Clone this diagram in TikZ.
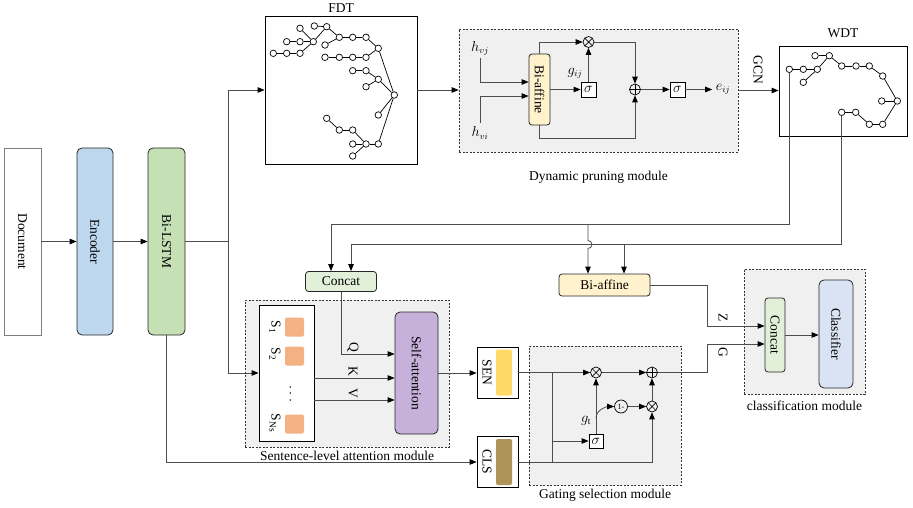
\documentclass[tikz,border=0pt]{standalone}
\usepackage{fontspec}
\setmainfont{Liberation Serif}
\usepackage{amsmath}
\usepackage{tikz}
\usetikzlibrary{arrows.meta,positioning,calc}
\definecolor{docgray}{HTML}{7F7F7F}
\definecolor{encblue}{HTML}{BDD7EE}
\definecolor{lstmgreen}{HTML}{C5E0B4}
\definecolor{catgreen}{HTML}{E2F0D9}
\definecolor{bayellow}{HTML}{FFF2CC}
\definecolor{attpurple}{HTML}{C5B1D9}
\definecolor{clfblue}{HTML}{DAE3F3}
\definecolor{modgray}{HTML}{F0F0F0}
\definecolor{sorange}{HTML}{F4B183}
\definecolor{senyellow}{HTML}{FFD966}
\definecolor{clsbrown}{HTML}{AF9459}
\definecolor{lnkgray}{HTML}{4D4D4D}

\begin{document}
\begin{tikzpicture}[x=1pt,y=-1pt,>={Triangle[length=7pt,width=5.5pt,color=black]},font=\fontsize{13.5}{15}\selectfont,
  blk/.style={draw=black!85,rounded corners=5pt,line width=0.8pt,inner sep=0pt},
  box/.style={draw=black,line width=0.8pt,fill=white,inner sep=0pt},
  module/.style={draw=black!80,dash pattern=on 2pt off 1.5pt,line width=0.7pt,fill=modgray,inner sep=0pt},
  lnk/.style={draw=lnkgray,line width=0.8pt},
  tnode/.style={circle,draw=black,fill=white,line width=0.7pt,minimum size=6.5pt,inner sep=0pt},
  tedge/.style={draw=black,line width=0.7pt},
  sig/.style={draw=black,fill=white,line width=0.8pt,minimum size=15pt,inner sep=0pt},
  otimes/.style={circle,draw=black,line width=0.7pt,minimum size=11pt,inner sep=0pt,
    path picture={\draw[line width=0.7pt] (path picture bounding box.north west)--(path picture bounding box.south east)
      (path picture bounding box.north east)--(path picture bounding box.south west);}},
  oplus/.style={circle,draw=black,line width=0.7pt,minimum size=11pt,inner sep=0pt,
    path picture={\draw[line width=0.7pt] (path picture bounding box.north)--(path picture bounding box.south)
      (path picture bounding box.east)--(path picture bounding box.west);}},
  bar/.style={rounded corners=2pt,minimum width=16pt,minimum height=46pt,inner sep=0pt},
  sq/.style={fill=sorange,rounded corners=2pt,minimum size=19pt,inner sep=0pt}]
\useasboundingbox (0,0) rectangle (913,508);

% left column
\node[box,draw=docgray,minimum width=37pt,minimum height=187pt] (doc) at (22.5,241.5) {\rotatebox{-90}{Document}};
\node[blk,fill=encblue,minimum width=36pt,minimum height=187pt] (enc) at (95,241.5) {\rotatebox{-90}{Encoder}};
\node[blk,fill=lstmgreen,minimum width=37pt,minimum height=187pt] (lstm) at (166.5,241.5) {\rotatebox{-90}{Bi-LSTM}};

% trees and pruning
\node[box,minimum width=152pt,minimum height=148pt,label={above:FDT}] (fdt) at (341,90) {};
\node[module,minimum width=279pt,minimum height=123pt,label={[label distance=15pt]below:Dynamic pruning module}] (dpm) at (598.5,90.5) {};
\node[box,minimum width=128pt,minimum height=90pt,label={[label distance=4pt]above:WDT}] (wdt) at (843,91) {};

\foreach \n/\x/\y in {fr/394.3/95, fa/378.3/48.3, fb/378.3/79.3, fc/378.3/115, fd/378.3/144,
  fa1/366/37.3, fa11/352.7/37.3, fa12/339.3/37.3, fa13/326.7/26.7, fa14/325/45, fa15/314.3/26,
  fa16/313.3/41.7, fa17/300/28.3, fa18/300/41.7, fa19/300/53.3, fa20/286.7/41.7, fa21/286.7/53.3,
  fa22/273.3/53.3, fa2/366/57.3, fa23/352.7/57.3, fa24/339.3/57.3, fa25/325/57.3,
  fb1/366/70.7, fb2/352.7/70.7, fb3/366/86.7,
  fd1/366/144, fd2/352.7/130, fd3/352.7/144, fd4/352.7/156, fd5/339.3/130, fd6/326.7/118.3}
  \node[tnode] (\n) at (\x,\y) {};
\foreach \a/\b in {fr/fa, fr/fb, fr/fc, fr/fd, fa/fa1, fa1/fa11, fa11/fa12, fa12/fa13, fa12/fa14,
  fa13/fa15, fa13/fa16, fa16/fa17, fa16/fa18, fa16/fa19, fa18/fa20, fa19/fa21, fa21/fa22,
  fa/fa2, fa2/fa23, fa23/fa24, fa24/fa25, fb/fb1, fb1/fb2, fb/fb3,
  fd/fd1, fd1/fd2, fd1/fd3, fd1/fd4, fd2/fd5, fd5/fd6}
  \draw[tedge] (\a) -- (\b);

\foreach \n/\x/\y in {w1/789.3/69.3, w2/803.3/69.3, w3/817.3/69.3, w4/803.3/82.3, w5/815/55.7,
  w6/829.3/55.7, w7/841.7/66, w8/856/66, w9/869.3/66, w10/882.7/76, w11/897.3/101, w12/881.7/101,
  w13/841.7/112.3, w14/855.7/112.3, w15/869.3/124.3, w16/882.7/124.3}
  \node[tnode] (\n) at (\x,\y) {};
\foreach \a/\b in {w1/w2, w2/w3, w3/w4, w3/w6, w5/w6, w6/w7, w7/w8, w8/w9, w9/w10, w10/w11,
  w12/w11, w11/w16, w16/w15, w15/w14, w14/w13}
  \draw[tedge] (\a) -- (\b);

\node[blk,fill=bayellow,minimum width=21pt,minimum height=71pt,rounded corners=3pt] (ba1) at (539.5,89.5) {\rotatebox{-90}{Bi-affine}};
\node (hvj) at (480,48) {$h_{vj}$};
\node (hvi) at (480,133) {$h_{vi}$};
\node[otimes] (mul1) at (588.5,42) {};
\node[sig] (sg1) at (588.5,89.5) {$\sigma$};
\node (gij) at (575,73) {$g_{ij}$};
\node[oplus] (add1) at (635,89.5) {};
\node[sig] (sg2) at (677.5,89.5) {$\sigma$};
\node (eij) at (723,89.5) {$e_{ij}$};
\node (gcn) at (758,70) {\rotatebox{-90}{GCN}};

% middle blocks
\node[blk,fill=catgreen,minimum width=71pt,minimum height=20pt,rounded corners=3pt] (cat1) at (341,281.5) {Concat};
\node[blk,fill=bayellow,minimum width=91pt,minimum height=22pt,rounded corners=3pt] (ba2) at (604.5,285) {Bi-affine};

% sentence-level attention
\node[module,minimum width=204pt,minimum height=147pt,label={[label distance=0pt]below:Sentence-level attention module}] (sam) at (347,373.5) {};
\node[box,minimum width=55pt,minimum height=136pt] (sbox) at (286.5,373) {};
\node[sq] (sq1) at (294.5,327) {};
\node[sq] (sq2) at (294.5,356) {};
\node[sq] (sq3) at (294.5,424) {};
\node (s1) at (275,327) {\rotatebox{-90}{S\textsubscript{1}}};
\node (s2) at (275,354) {\rotatebox{-90}{S\textsubscript{2}}};
\node (sdots) at (290,395) {\rotatebox{-90}{$\cdots$}};
\node (sn) at (275,423) {\rotatebox{-90}{S\textsubscript{Ns}}};
\node[blk,fill=attpurple,minimum width=43pt,minimum height=122pt] (satt) at (416.5,373) {\rotatebox{-90}{Self-attention}};
\node (ql) at (353,347) {\rotatebox{-90}{Q}};
\node (kl) at (353,371) {\rotatebox{-90}{K}};
\node (vl) at (353,393) {\rotatebox{-90}{V}};

% gating
\node[box,minimum width=41pt,minimum height=51pt] (sen) at (497.5,372.5) {};
\node[bar,fill=senyellow] (senbar) at (504,372.5) {};
\node (sent) at (487,372.5) {\rotatebox{-90}{SEN}};
\node[box,minimum width=41pt,minimum height=51pt] (cls) at (497.5,462) {};
\node[bar,fill=clsbrown] (clsbar) at (504,462) {};
\node (clst) at (487,462) {\rotatebox{-90}{CLS}};
\node[module,minimum width=152pt,minimum height=139pt,label={[label distance=0pt]below:Gating selection module}] (gsm) at (605,415.5) {};
\node[otimes] (mul2) at (596,372.5) {};
\node[otimes] (mul3) at (652,406.5) {};
\node[oplus] (add2) at (652,372.5) {};
\node[sig,minimum size=14pt] (sg3) at (596,441) {$\sigma$};
\node[circle,draw=black,line width=0.7pt,minimum size=13pt,inner sep=0pt,font=\fontsize{8}{9}\selectfont] (one) at (621,406.5) {1-};
\node (gt) at (586,421) {$g_{\mathrm{t}}$};

% classification
\node[module,minimum width=121pt,minimum height=125pt,label={[label distance=3pt]below:classification module}] (clm) at (804.5,331.5) {};
\node[blk,fill=catgreen,minimum width=20pt,minimum height=74pt,rounded corners=3pt] (cat2) at (775,335) {\rotatebox{-90}{Concat}};
\node[blk,fill=clfblue,minimum width=34pt,minimum height=108pt] (clf) at (836,334) {\rotatebox{-90}{Classifier}};
\node (zl) at (723,318) {\rotatebox{-90}{Z}};
\node (gl) at (723,352) {\rotatebox{-90}{G}};

% helper points
\coordinate (sp) at (228,241.5);
\coordinate (hA) at (0,224.5);
\coordinate (hB) at (0,244.5);
\coordinate (zx) at (707,0);
\coordinate (pA) at ([xshift=-16.5pt]ba2.north);
\coordinate (pB) at ([xshift=19.5pt]ba2.north);
\coordinate (jg1) at (552,372.5);
\coordinate (jg2) at (552,462);
\coordinate (jg3) at (552,441);
\coordinate (jg4) at (596,418);

% connectors
\draw[lnk,->] (doc) -- (enc);
\draw[lnk,->] (enc) -- (lstm);
\draw[lnk] (lstm) -- (sp);
\draw[lnk,->] (sp) |- (fdt.west);
\draw[lnk,->] (sp) |- (sbox.west);
\draw[lnk,->] (lstm.south) |- (cls.west);
\draw[lnk,->] (fdt.east) -- (fdt.east -| dpm.west);
\draw[lnk,->] (hvj.south) |- ([yshift=7.5pt]ba1.west);
\draw[lnk,->] (hvi.north) |- ([yshift=-6.5pt]ba1.west);
\draw[lnk,->] (ba1.north) |- (mul1.west);
\draw[lnk,->] (ba1.east) -- (sg1.west);
\draw[lnk,->] (sg1.north) -- (mul1.south);
\draw[lnk,->] (mul1.east) -| (add1.north);
\draw[lnk,->] (ba1.south) -- ++(0,13) -| (add1.south);
\draw[lnk,->] (add1.east) -- (sg2.west);
\draw[lnk,->] (sg2.east) -- (eij.west);
\draw[lnk,->] (dpm.east) -- (dpm.east -| wdt.west);
\draw[lnk,->] (w1.south) -- (w1.south |- hA) -| ([xshift=-10pt]cat1.north);
\draw[lnk,->] (w13.south) -- (w13.south |- hB) -| ([xshift=10pt]cat1.north);
\draw[lnk,->] (pA |- hA) -- ++(0,16) arc[start angle=90,end angle=-90,radius=4pt] -- (pA);
\draw[lnk,->] (pB |- hB) -- (pB);
\draw[lnk,->] (cat1.south) |- ([yshift=19pt]satt.west);
\draw[lnk,->] ([yshift=-5pt]sbox.east) -- ([yshift=-5pt]satt.west);
\draw[lnk,->] ([yshift=-27pt]sbox.east) -- ([yshift=-27pt]satt.west);
\draw[lnk,->] (satt.east) -- (satt.east -| sen.west);
\draw[lnk,->] (sen.east) -- (mul2.west);
\draw[lnk] (jg1) -- (jg2);
\draw[lnk,->] (jg3) -- (sg3.west);
\draw[lnk,->] (cls.east) -| (mul3.south);
\draw[lnk,->] (sg3.north) -- (mul2.south);
\draw[lnk,->] (jg4) .. controls +(0,-9) and +(-6,0) .. (one.west);
\draw[lnk,->] (one.east) -- (mul3.west);
\draw[lnk,->] (mul2.east) -- (add2.west);
\draw[lnk,->] (mul3.north) -- (add2.south);
\draw[lnk,->] (ba2.east) -- (ba2.east -| zx) |- ([yshift=9pt]cat2.west);
\draw[lnk,->] (add2.east) -- (add2.east -| zx) |- ([yshift=-9pt]cat2.west);
\draw[lnk,->] (cat2.east) -- (cat2.east -| clf.west);
\end{tikzpicture}
\end{document}
